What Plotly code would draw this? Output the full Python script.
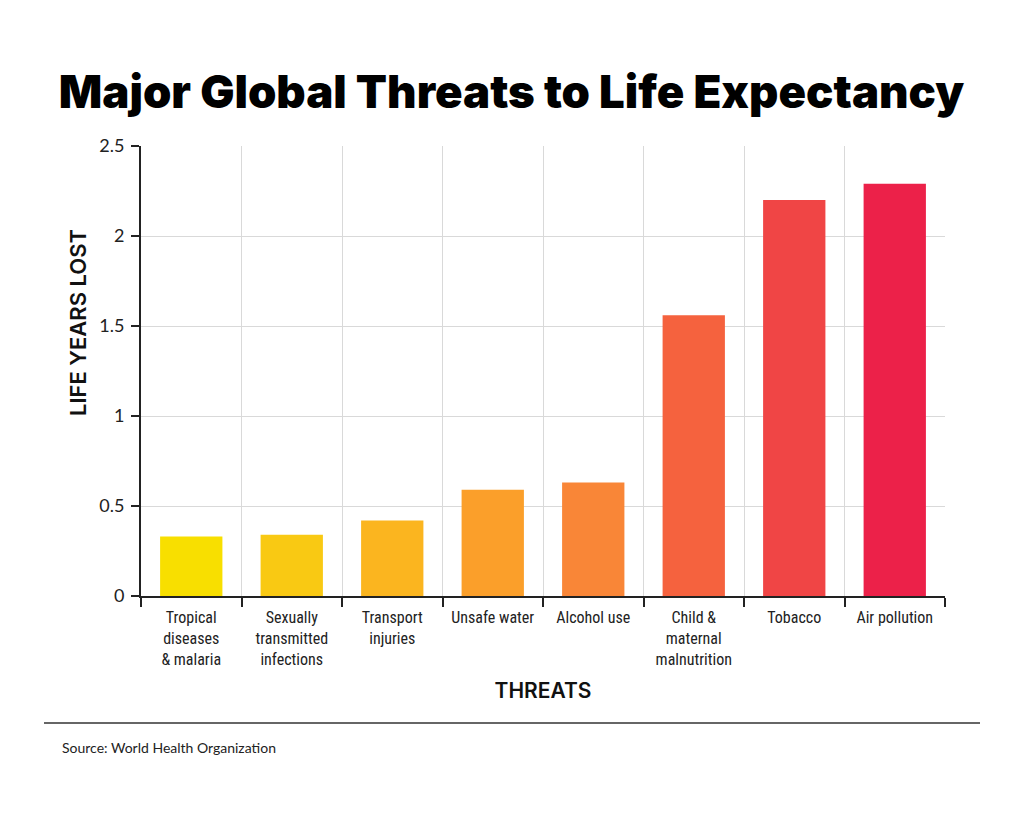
import plotly.graph_objects as go

# data
threats = [
    "Tropical<br>diseases<br>& malaria",
    "Sexually<br>transmitted<br>infections",
    "Transport<br>injuries",
    "Unsafe water",
    "Alcohol use",
    "Child &<br>maternal<br>malnutrition",
    "Tobacco",
    "Air pollution",
]
years_lost = [0.33, 0.34, 0.42, 0.59, 0.63, 1.56, 2.2, 2.29]
bar_colors = ["#F8DF00", "#F9C913", "#FBB51F", "#FB9F2A",
              "#F98637", "#F5623E", "#F04545", "#EC2149"]
y_ticks = [0, 0.5, 1, 1.5, 2, 2.5]
y_ticktext = ["0", "0.5", "1", "1.5", "2", "2.5"]

narrow = "Liberation Sans Narrow, Roboto Condensed, Arial Narrow, sans-serif"

fig = go.Figure()
fig.add_trace(go.Bar(
    x=threats,
    y=years_lost,
    marker=dict(color=bar_colors, line=dict(width=0)),
    width=0.62,
    showlegend=False,
))

# the page body adds 8px, so margins are shifted by that much
fig.update_layout(
    width=1024,
    height=819,
    paper_bgcolor="white",
    plot_bgcolor="white",
    margin=dict(l=133, r=87, t=138, b=231),
    title=dict(
        text="Major Global Threats to Life Expectancy",
        font=dict(family="Inter, Roboto, sans-serif", size=45.5, color="black", weight=900),
        x=(511.5 - 8) / 1024, xref="container", xanchor="center",
        y=1 - 84 / 819, yref="container", yanchor="middle",
    ),
    xaxis=dict(
        type="category",
        tickson="boundaries",
        showgrid=True,
        gridcolor="#d9d9d9",
        gridwidth=1,
        showline=True,
        linecolor="#222",
        linewidth=2,
        ticks="outside",
        ticklen=9,
        tickwidth=2,
        tickcolor="#222",
        ticklabelstandoff=6,
        tickfont=dict(family=narrow, size=16, color="#222"),
        title=dict(text="THREATS", font=dict(family="Inter, Lato, sans-serif", size=21, color="#111", weight=600), standoff=16),
        fixedrange=True,
    ),
    yaxis=dict(
        range=[0, 2.5],
        tickvals=y_ticks,
        ticktext=y_ticktext,
        showgrid=True,
        gridcolor="#d9d9d9",
        gridwidth=1,
        zeroline=False,
        showline=True,
        linecolor="#222",
        linewidth=2,
        ticks="outside",
        ticklen=8,
        tickwidth=2,
        tickcolor="#222",
        ticklabelstandoff=3,
        tickfont=dict(family="Lato, Inter, sans-serif", size=18, color="#222"),
        fixedrange=True,
    ),
    bargap=0.38,
)

# y axis title sits above the middle of the axis in the reference
fig.add_annotation(
    text="LIFE YEARS LOST",
    xref="paper", yref="paper",
    x=(78 - 141) / 804, y=(596 - 323) / 450,
    xanchor="center", yanchor="middle",
    textangle=-90,
    showarrow=False,
    font=dict(family="Inter, Lato, sans-serif", size=22, color="#111", weight=600),
)

# divider line and source note under the chart
fig.add_shape(
    type="line", xref="paper", yref="paper",
    x0=(44 - 141) / 804, x1=(980 - 141) / 804,
    y0=(596 - 723) / 450, y1=(596 - 723) / 450,
    line=dict(color="#333", width=1.5),
)
fig.add_annotation(
    text="Source: World Health Organization",
    xref="paper", yref="paper",
    x=(60 - 141) / 804, y=(596 - 747) / 450,
    xanchor="left", yanchor="middle",
    showarrow=False,
    font=dict(family="Lato, Inter, sans-serif", size=14, color="#222"),
)

fig.write_html("out.html")
